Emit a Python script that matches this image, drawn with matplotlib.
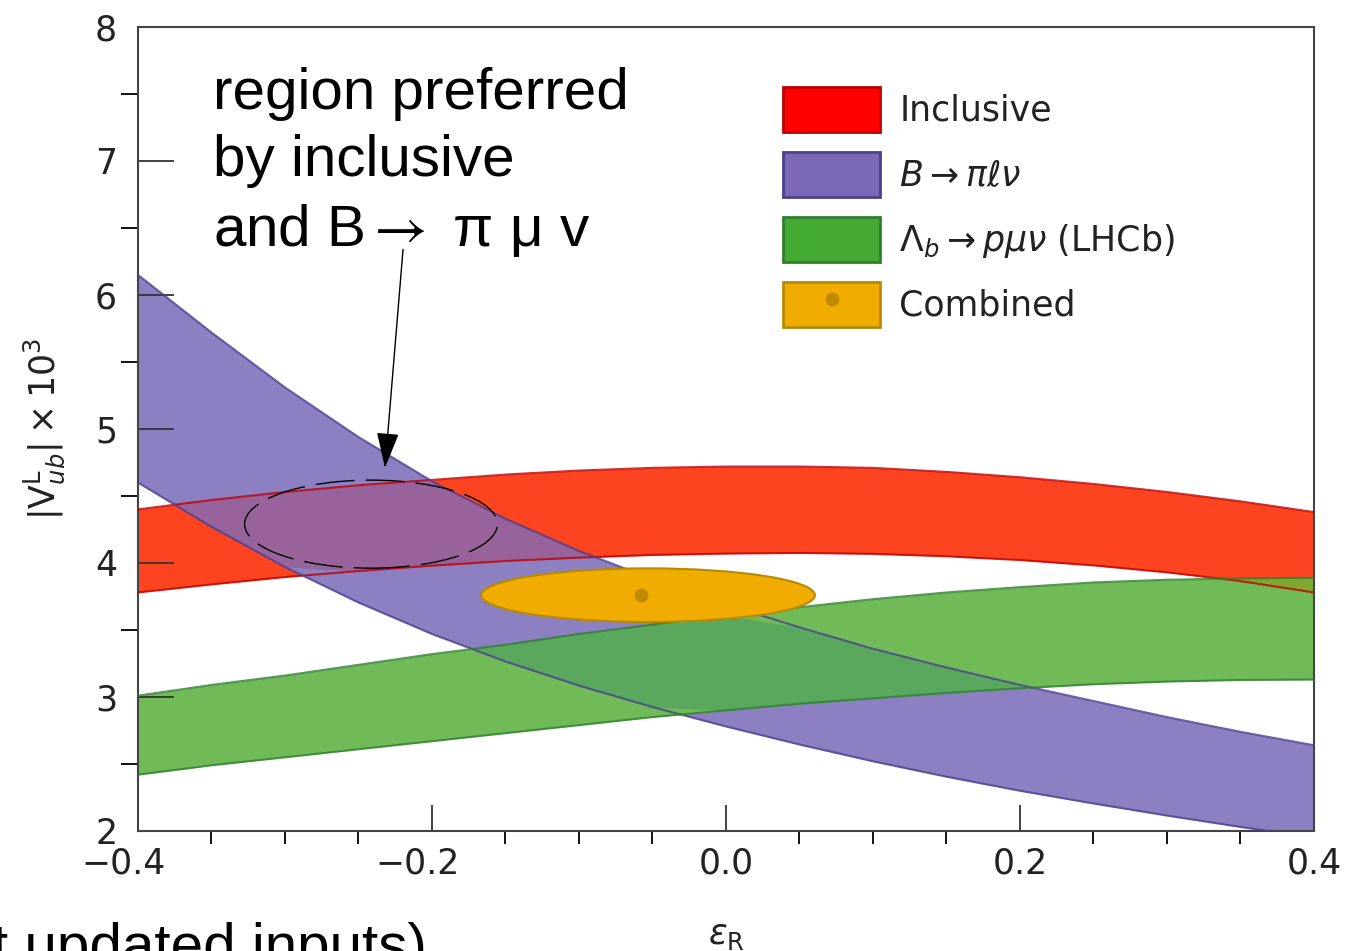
import numpy as np
import matplotlib
matplotlib.use("Agg")
import matplotlib.pyplot as plt
from matplotlib.patches import Patch, Ellipse
from matplotlib.lines import Line2D
from matplotlib.transforms import ScaledTranslation

plt.rcParams["font.family"] = ["DejaVu Sans"]
plt.rcParams["mathtext.fontset"] = "dejavusans"

# epsilon_R grid the bands were read on
eps_r = [-0.40, -0.35, -0.30, -0.25, -0.20, -0.15, -0.10, -0.05, 0.00,
         0.05, 0.10, 0.15, 0.20, 0.25, 0.30, 0.35, 0.40]

# |V_ub^L| x 10^3 bands (upper / lower edge)
incl_hi = [4.40, 4.47, 4.53, 4.58, 4.62, 4.66, 4.69, 4.71, 4.72,
           4.72, 4.71, 4.68, 4.64, 4.59, 4.53, 4.46, 4.38]
incl_lo = [3.78, 3.84, 3.895, 3.94, 3.98, 4.015, 4.04, 4.06, 4.07,
           4.075, 4.068, 4.05, 4.022, 3.982, 3.93, 3.865, 3.78]
bpi_hi = [6.15, 5.72, 5.31, 4.94, 4.61, 4.33, 4.09, 3.88, 3.69,
          3.52, 3.36, 3.22, 3.09, 2.97, 2.85, 2.74, 2.64]
bpi_lo = [4.60, 4.27, 3.97, 3.705, 3.47, 3.265, 3.085, 2.925, 2.78,
          2.645, 2.52, 2.405, 2.30, 2.205, 2.115, 2.03, 1.95]
lhcb_hi = [3.01, 3.09, 3.16, 3.24, 3.32, 3.39, 3.47, 3.54, 3.61,
           3.67, 3.73, 3.78, 3.82, 3.855, 3.875, 3.885, 3.89]
lhcb_lo = [2.42, 2.49, 2.55, 2.61, 2.67, 2.73, 2.79, 2.85, 2.90,
           2.95, 2.99, 3.03, 3.065, 3.095, 3.115, 3.127, 3.13]

# combined fit: best point and the allowed region around it
comb_best = (-0.058, 3.76)
comb_region = (-0.053, 3.76)
comb_width = 0.227
comb_height = 0.40

# hand-drawn region of interest
note_center = (-0.2415, 4.29)
note_width = 0.172
note_height = 0.657
note_tip = (-0.232, 4.71)
note_tail = (-0.2197, 6.34)

legend_labels = ["Inclusive", r"$B \rightarrow \pi \ell \nu$",
                 r"$\Lambda_b \rightarrow p \mu \nu$ (LHCb)", "Combined"]

x = np.array(eps_r)
bands = {
    "incl": (np.array(incl_lo), np.array(incl_hi), "#fc4420", "#c00000"),
    "bpi": (np.array(bpi_lo), np.array(bpi_hi), "#8c80c3", "#4b3f8f"),
    "lhcb": (np.array(lhcb_lo), np.array(lhcb_hi), "#70bb58", "#2f7f2f"),
}

fig = plt.figure(figsize=(13.45, 9.51), dpi=100)
ax = fig.add_axes([138 / 1345, 120 / 951, 1176 / 1345, 804 / 951])

for lo, hi, face, edge in bands.values():
    ax.fill_between(x, lo, hi, color=face, lw=0, zorder=1)

# overlapping parts of two bands
def overlap(a, b, color):
    lo = np.maximum(bands[a][0], bands[b][0])
    hi = np.minimum(bands[a][1], bands[b][1])
    ax.fill_between(x, lo, hi, where=lo < hi, interpolate=True,
                    color=color, lw=0, zorder=2)

overlap("incl", "bpi", "#98629a")
overlap("bpi", "lhcb", "#59a85d")
overlap("incl", "lhcb", "#80a632")

for lo, hi, face, edge in bands.values():
    ax.plot(x, lo, color=edge, lw=1.5, alpha=0.8, zorder=3)
    ax.plot(x, hi, color=edge, lw=1.5, alpha=0.8, zorder=3)

ax.add_patch(Ellipse(comb_region, comb_width, comb_height, facecolor="#f0ac00",
                     edgecolor="#b88a00", lw=1.5, zorder=5))
ax.plot(*comb_best, "o", color="#c08a00", ms=9, zorder=6)

ax.add_patch(Ellipse(note_center, note_width, note_height, fill=False,
                     edgecolor="black", lw=1, ls=(0, (28, 8)), zorder=7))
ax.annotate("", xy=note_tip, xytext=note_tail,
            arrowprops=dict(arrowstyle="-|>,head_length=1.6,head_width=0.5",
                            mutation_scale=14, lw=1, color="black",
                            shrinkA=0, shrinkB=0), zorder=8)

ax.set_xlim(-0.4, 0.4)
ax.set_ylim(2, 8)
ax.set_xticks([-0.4, -0.2, 0.0, 0.2, 0.4])
ax.set_xticks(np.arange(-0.4, 0.41, 0.05), minor=True)
ax.set_yticks([2, 3, 4, 5, 6, 7, 8])
ax.set_yticks(np.arange(2, 8.1, 0.5), minor=True)
ax.set_xticklabels(["\u22120.4", "\u22120.2", "0.0", "0.2", "0.4"])
ax.tick_params(direction="in", labelsize=25, color="#333333", labelcolor="#222222")
ax.tick_params(axis="y", which="major", length=26, width=1.3, pad=15)
ax.tick_params(axis="y", which="minor", length=12.5, width=1.3)
ax.tick_params(axis="x", which="major", length=18.5, width=1.3, pad=11)
ax.tick_params(axis="x", which="minor", length=9, width=1.3)
for sp in ax.spines.values():
    sp.set_color("#444444")
    sp.set_linewidth(1.5)

# negative labels hang their minus sign to the left
for lab in ax.get_xticklabels()[:2]:
    lab.set_transform(lab.get_transform() + ScaledTranslation(-0.14, 0, fig.dpi_scale_trans))

ax.set_ylabel(r"$|\mathrm{V}^{\mathrm{L}}_{ub}| \times 10^3$", fontsize=25,
              labelpad=20, color="#222222")
ax.set_xlabel(r"$\epsilon_{\mathrm{R}}$", fontsize=25, labelpad=27, color="#222222")

handles = [
    Patch(facecolor="#ff0000", edgecolor="#c00000", lw=2),
    Patch(facecolor="#7a68b6", edgecolor="#4b3f8f", lw=2),
    Patch(facecolor="#44aa33", edgecolor="#2f7f2f", lw=2),
    (Patch(facecolor="#f0ac00", edgecolor="#b88a00", lw=2),
     Line2D([], [], marker="o", ls="", color="#c08a00", ms=9)),
]
ax.legend(handles, legend_labels, loc="upper left", bbox_to_anchor=(0.5485, 0.9254),
          frameon=False, fontsize=25, borderpad=0, borderaxespad=0,
          handlelength=2.8, handleheight=1.62, labelspacing=0.57,
          handletextpad=0.55, labelcolor="#222222")

note_font = ["Liberation Sans", "DejaVu Sans"]
# multi-line text: baseline alignment refers to the last line here
fig.text(213 / 1345, 1 - 246 / 951,
         "region preferred\nby inclusive\nand B$\\rightarrow$ \u03c0 \u03bc v",
         fontsize=42, family=note_font, math_fontfamily="stix",
         va="baseline", linespacing=1.31)
fig.text(-8 / 1345, 1 - 964 / 951, "t updated inputs)", fontsize=42,
         family=note_font, va="baseline")

fig.savefig("out.png", dpi=100)
